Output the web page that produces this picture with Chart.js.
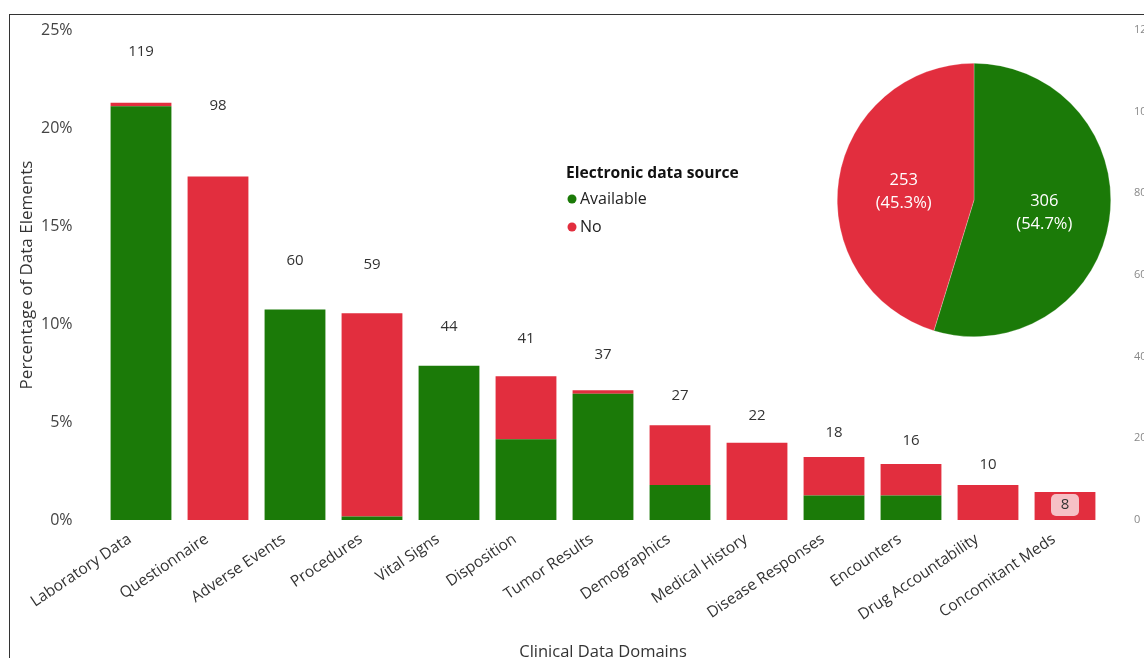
<!DOCTYPE html>
<html>
<head>
<meta charset="utf-8">
<script src="https://cdn.jsdelivr.net/npm/chart.js@4.4.1/dist/chart.umd.min.js"></script>
<style>
  html, body { margin:0; padding:0; background:#fff; }
  #wrap { position:relative; width:1144px; height:658px; overflow:hidden; }
  #frame { position:absolute; left:9px; top:14px; width:1200px; height:700px; border-top:1px solid #333; border-left:1px solid #333; box-sizing:border-box; pointer-events:none; }
  #main { position:absolute; left:0; top:0; }
  #pie { position:absolute; left:835px; top:61px; }
</style>
</head>
<body>
<div id="wrap">
  <canvas id="main" width="1160" height="658"></canvas>
  <canvas id="pie" width="278" height="278"></canvas>
  <div id="frame"></div>
</div>
<script>
// ---- data ----
const categories = ["Laboratory Data","Questionnaire","Adverse Events","Procedures","Vital Signs","Disposition","Tumor Results","Demographics","Medical History","Disease Responses","Encounters","Drug Accountability","Concomitant Meds"];
const availableCounts = [118, 0, 60, 1, 44, 23, 36, 10, 0, 7, 7, 0, 0];
const noCounts        = [1, 98, 0, 58, 0, 18, 1, 17, 22, 11, 9, 10, 8];
const percentTicks = [0, 5, 10, 15, 20, 25];
const countTicks = [0, 20, 40, 60, 80, 100, 120];
const seriesNames = ["Available", "No"];
const legendTitle = "Electronic data source";

const GREEN = "#1B7A08";
const RED = "#E22E3E";
const FONT = "'Open Sans', 'Noto Sans', sans-serif";

const totals = categories.map((c, i) => availableCounts[i] + noCounts[i]);
const grand = totals.reduce((a, b) => a + b, 0);
const availPct = availableCounts.map(v => v / grand * 100);
const noPct = noCounts.map(v => v / grand * 100);

// count labels above bars (from the count axis)
const countLabelPlugin = {
  id: 'countLabels',
  afterDatasetsDraw(chart) {
    const ctx = chart.ctx;
    const meta = chart.getDatasetMeta(2);
    const y1 = chart.scales.y1;
    ctx.save();
    ctx.font = "15px " + FONT;
    ctx.textAlign = 'center';
    ctx.textBaseline = 'middle';
    meta.data.forEach((pt, i) => {
      const v = totals[i];
      const x = pt.x;
      if (v < 10) {
        const bottomPx = chart.scales.y.getPixelForValue(0);
        const cy = bottomPx - 15;
        ctx.fillStyle = 'rgba(255,255,255,0.7)';
        const w = 28, h = 22, r = 5;
        ctx.beginPath();
        ctx.roundRect(x - w/2, cy - h/2, w, h, r);
        ctx.fill();
        ctx.fillStyle = '#333';
        ctx.fillText(String(v), x, cy);
      } else {
        let y = y1.getPixelForValue(v) - 14;
        y = Math.max(y, chart.chartArea.top + 22);
        ctx.fillStyle = '#333';
        ctx.fillText(String(v), x, y);
      }
    });
    ctx.restore();
  }
};

// custom legend in plot area
const legendPlugin = {
  id: 'innerLegend',
  afterDraw(chart) {
    const ctx = chart.ctx;
    ctx.save();
    ctx.textBaseline = 'middle';
    ctx.textAlign = 'left';
    ctx.font = "bold 15.6px " + FONT;
    ctx.fillStyle = '#111';
    ctx.fillText(legendTitle, 566, 174);
    ctx.font = "16px " + FONT;
    chart.data.datasets.slice(0, 2).forEach((ds, i) => {
      const y = 199 + i * 28;
      ctx.fillStyle = ds.backgroundColor;
      ctx.beginPath();
      ctx.arc(572, y, 4.5, 0, Math.PI * 2);
      ctx.fill();
      ctx.fillStyle = '#222';
      ctx.fillText(ds.label, 580, y);
    });
    ctx.restore();
  }
};

function zeroPad(s) { s.paddingTop = 0; s.paddingBottom = 0; s.paddingLeft = 0; s.paddingRight = 0; }

new Chart(document.getElementById('main'), {
  type: 'bar',
  data: {
    labels: categories,
    datasets: [
      { label: seriesNames[0], data: availPct, backgroundColor: GREEN, stack: 's', yAxisID: 'y', order: 2 },
      { label: seriesNames[1], data: noPct, backgroundColor: RED, stack: 's', yAxisID: 'y', order: 2 },
      { type: 'line', label: 'count', data: totals, yAxisID: 'y1', showLine: false, pointRadius: 0, pointHoverRadius: 0, order: 1 }
    ]
  },
  options: {
    responsive: false,
    animation: false,
    devicePixelRatio: 1,
    layout: { padding: { top: 30, left: 0, right: 0, bottom: 0 } },
    plugins: { legend: { display: false }, tooltip: { enabled: false } },
    datasets: { bar: { categoryPercentage: 1, barPercentage: 0.79 } },
    scales: {
      x: {
        stacked: true,
        grid: { display: false, drawTicks: false },
        border: { display: false },
        ticks: { minRotation: 34, maxRotation: 34, autoSkip: false, padding: 10, labelOffset: -11, color: '#333', font: { family: FONT, size: 15.5 } },
        title: { display: true, text: 'Clinical Data Domains', color: '#333', font: { family: FONT, size: 16.5 }, padding: { top: 0, bottom: -4 } },
        afterFit(s) { zeroPad(s); s.height = 138; }
      },
      y: {
        stacked: true,
        min: 0, max: 25,
        position: 'left',
        grid: { display: false, drawTicks: false },
        border: { display: false },
        afterBuildTicks(s) { s.ticks = percentTicks.map(v => ({ value: v })); },
        ticks: { padding: 30, color: '#444', font: { family: FONT, size: 16 }, callback: v => v + '%' },
        title: { display: true, text: 'Percentage of Data Elements', color: '#333', font: { family: FONT, size: 17 }, padding: { top: 17, bottom: 0 } },
        afterFit(s) { zeroPad(s); s.width = 102.5; }
      },
      y1: {
        min: 0, max: 120,
        position: 'right',
        grid: { display: false, drawTicks: false },
        border: { display: false },
        afterBuildTicks(s) { s.ticks = countTicks.map(v => ({ value: v })); },
        ticks: { padding: 30.5, color: '#888', font: { family: FONT, size: 11 } },
        afterFit(s) { zeroPad(s); s.width = 56.5; }
      }
    }
  },
  plugins: [countLabelPlugin, legendPlugin]
});

// pie of overall availability
const pieValues = [availableCounts.reduce((a, b) => a + b, 0), noCounts.reduce((a, b) => a + b, 0)];
const pieLabelPlugin = {
  id: 'pieLabels',
  afterDatasetsDraw(chart) {
    const ctx = chart.ctx;
    const meta = chart.getDatasetMeta(0);
    const sum = pieValues.reduce((a, b) => a + b, 0);
    ctx.save();
    ctx.font = "16.5px " + FONT;
    ctx.fillStyle = '#fff';
    ctx.textAlign = 'center';
    ctx.textBaseline = 'middle';
    meta.data.forEach((arc, i) => {
      const mid = (arc.startAngle + arc.endAngle) / 2;
      const r = arc.outerRadius * 0.52;
      const x = arc.x + Math.cos(mid) * r;
      const y = arc.y + Math.sin(mid) * r;
      ctx.fillText(String(pieValues[i]), x, y - 9);
      ctx.fillText('(' + (pieValues[i] / sum * 100).toFixed(1) + '%)', x, y + 14);
    });
    ctx.restore();
  }
};
new Chart(document.getElementById('pie'), {
  type: 'pie',
  data: {
    labels: seriesNames,
    datasets: [{ data: pieValues, backgroundColor: [GREEN, RED], borderColor: 'rgba(255,255,255,0.5)', borderWidth: 0.5 }]
  },
  options: {
    responsive: false,
    animation: false,
    devicePixelRatio: 1,
    layout: { padding: 2 },
    plugins: { legend: { display: false }, tooltip: { enabled: false } }
  },
  plugins: [pieLabelPlugin]
});
</script>
</body>
</html>
